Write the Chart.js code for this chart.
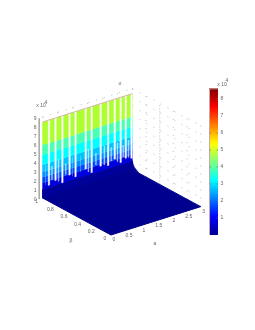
<!DOCTYPE html>
<html><head><meta charset="utf-8">
<style>html,body{margin:0;padding:0;background:#fff}canvas{display:block}</style>
<script src="https://cdn.jsdelivr.net/npm/chart.js@4"></script></head>
<body><canvas id="c" width="255" height="330"></canvas>
<script>
// ---- data ----
const xTicks = [0, 0.5, 1, 1.5, 2, 2.5, 3];
const yTicks = [0, 0.2, 0.4, 0.6, 0.8, 1];
const zTicks = [0, 1, 2, 3, 4, 5, 6, 7, 8, 9];
const colorbarTicks = [1, 2, 3, 4, 5, 6, 7, 8];
const xTickText = ['0', '0.5', '1', '1.5', '2', '2.5', '3'];
const yTickText = ['0', '0.2', '0.4', '0.6', '0.8', '1'];
// wall colour bands: lower z bound, upper z bound, colour
const bandLow  = [0,         0.9,       1.7,       2.3,       2.9,       3.7,       4.8,       5.9];
const bandHigh = [0.9,       1.7,       2.3,       2.9,       3.7,       4.8,       5.9,       8.45];
const bandCol  = ['#00009a', '#0000dc', '#0048ff', '#0090ff', '#00c4ff', '#00ffff', '#48ffb4', '#adff2f'];
// white gaps between the wall's ridges
const gapX   = [0.19, 0.41, 0.64, 0.88, 1.08, 1.42, 1.62, 1.92, 2.17, 2.39, 2.59, 2.76, 2.95];
const gapLow = [1.2,  1.5,  1.0,  1.6,  1.2,  1.7,  1.1,  1.5,  1.3,  1.8,  1.2,  1.5,  1.3];
// short pale flecks in the lower part of the wall
const fleckX    = [0.08, 0.30, 0.52, 0.76, 0.98, 1.25, 1.52, 1.77, 2.05, 2.28, 2.49, 2.68, 2.86];
const fleckHigh = [3.6,  3.2,  3.7,  3.0,  3.5,  3.3,  3.8,  3.1,  3.6,  3.2,  3.5,  3.0,  3.4];
const fleckLow  = [1.4,  1.7,  1.3,  1.8,  1.4,  1.6,  1.3,  1.8,  1.5,  1.7,  1.4,  1.7,  1.5];
// colorbar
const jetStops = ['#00008f','#0000ff','#0080ff','#00ffff','#80ff80','#ffff00','#ff8000','#ff0000','#800000'];
const colorMin = 0, colorMax = 8.6;

// ---- 3D view ----
const view = { ox: 111, oy: 235, xdx: 29.9, xdy: -9.45, ydx: -68.3, ydy: -37, zdy: -9 };
const X = (x, y) => view.ox + x * view.xdx + y * view.ydx;
const Y = (x, y, z) => view.oy + x * view.xdy + y * view.ydy + z * view.zdy;
const P = (x, y, z) => ({ x: X(x, y), y: Y(x, y, z) });
const W = 255, H = 330;

const sets = [];
function shape(pts, color, yAxisID, bw) {
  sets.push({ data: pts.concat([pts[0]]), showLine: true, fill: 'shape', backgroundColor: color,
    borderColor: color, borderWidth: bw === undefined ? 0.3 : bw, pointRadius: 0, tension: 0, yAxisID: yAxisID || 'y' });
}
function line(pts, color, width, dash) {
  sets.push({ data: pts, showLine: true, fill: false, borderColor: color, borderWidth: width,
    borderDash: dash || [], pointRadius: 0, tension: 0, yAxisID: 'y' });
}
const gridCol = '#a9a9a9', dots = [1, 7], denseDots = [1, 2];
// back-wall grid
zTicks.forEach(z => {
  line([P(0, 1, z), P(3, 1, z)], gridCol, 0.8, dots);
  line([P(3, 1, z), P(3, 0, z)], gridCol, 0.8, dots);
});
xTicks.forEach(x => line([P(x, 1, 0), P(x, 1, 9)], gridCol, 0.8, dots));
yTicks.forEach(y => line([P(3, y, 0), P(3, y, 9)], gridCol, 0.8, y === 0.6 ? denseDots : dots));
// wall bands
bandCol.forEach((c, i) => shape([P(0, 1, bandLow[i]), P(3, 1, bandLow[i]), P(3, 1, bandHigh[i]), P(0, 1, bandHigh[i])], c));
// navy base of the wall, overlapping the floor so that no seam shows
shape([P(0, 1, bandHigh[0]), P(3, 1, bandHigh[0]), P(3, 1, bandLow[0]), P(0, 1, bandLow[0])], bandCol[0], 'y', 1);
// floor
shape([P(0, 0, 0), P(3, 0, 0), P(3, 1, 0), P(0, 1, 0)], '#00008f', 'y', 1);
// foot of the wall at its far end
shape([P(3, 1, 0.9), P(3, 0.97, 0.4), P(3, 0.9, 0), P(3, 1, 0)], '#00009a');
// gaps
gapX.forEach((x, i) => shape([P(x, 1, gapLow[i]), P(x + 0.045, 1, gapLow[i]), P(x + 0.045, 1, 8.5), P(x, 1, 8.5)], '#ffffff'));
fleckX.forEach((x, i) => shape([P(x, 1, fleckLow[i]), P(x + 0.03, 1, fleckLow[i]), P(x + 0.03, 1, fleckHigh[i]), P(x, 1, fleckHigh[i])], 'rgba(255,255,255,0.55)'));
// top edge of the wall
line([P(0, 1, 8.45), P(3, 1, 8.45)], '#dcb4b4', 1);
// vertical axis
line([P(-0.12, 1, 0), P(-0.12, 1, 9)], '#777777', 1);
// colorbar: each step runs to the top and the next one paints over it, so no seams appear
function mixColor(a, b, t) {
  const h = s => [1, 3, 5].map(i => parseInt(s.substr(i, 2), 16));
  const A = h(a), B = h(b);
  return 'rgb(' + A.map((v, i) => Math.round(v + (B[i] - v) * t)).join(',') + ')';
}
for (let i = 0; i < jetStops.length - 1; i++) {
  const a = colorMin + (colorMax - colorMin) * i / (jetStops.length - 1);
  const b = colorMin + (colorMax - colorMin) * (i + 1) / (jetStops.length - 1);
  const n = 8;
  for (let k = 0; k < n; k++) {
    const v0 = a + (b - a) * k / n;
    shape([{ x: 209.5, y: v0 }, { x: 218, y: v0 }, { x: 218, y: colorMax }, { x: 209.5, y: colorMax }],
      mixColor(jetStops[i], jetStops[i + 1], (k + 0.5) / n), 'cb', 0);
  }
}
// colorbar outline on its left and top
sets.push({ data: [{ x: 209.5, y: colorMin }, { x: 209.5, y: colorMax }, { x: 218, y: colorMax }], showLine: true, fill: false,
  borderColor: '#c8a8a8', borderWidth: 1, pointRadius: 0, tension: 0, yAxisID: 'cb' });
// Chart.js paints the first dataset on top: paint in the order built above
sets.reverse();

const cbPxPerUnit = 17, cbZeroPx = 235;
const labels = {
  id: 'labels',
  afterDatasetsDraw(ch) {
    const c = ch.ctx, sx = ch.scales.x, sy = ch.scales.y, cb = ch.scales.cb;
    c.save();
    c.fillStyle = '#666';
    c.font = '5px "Liberation Sans"';
    c.textAlign = 'center'; c.textBaseline = 'middle';
    const T = (t, px, py) => c.fillText(t, sx.getPixelForValue(px), sy.getPixelForValue(py));
    zTicks.forEach(z => { const p = P(-0.12, 1, z); T(String(z), p.x - 4, p.y); });
    xTicks.forEach((x, i) => { const p = P(x, 0, 0); T(xTickText[i], p.x + 3, p.y + 5); });
    yTicks.forEach((y, i) => { const p = P(0, y, 0); T(yTickText[i], p.x - 6, p.y + 4); });
    colorbarTicks.forEach(v => {
      const py = cb.getPixelForValue(v);
      c.fillText(String(v), 222, py);
      c.fillRect(209.5, py - 0.3, 1.5, 0.6); c.fillRect(216.5, py - 0.3, 1.5, 0.6);
    });
    T('x 10', 41, 106); T('x 10', 222, 85);
    T('4', 46, 103); T('4', 227, 81);
    T('a', 155, 244); T('β', 71, 241); T('σ', 120, 84);
    c.restore();
  }
};

new Chart(document.getElementById('c'), {
  type: 'scatter',
  data: { datasets: sets },
  options: {
    responsive: false, animation: false, events: [],
    layout: { padding: 0 },
    plugins: { legend: { display: false }, tooltip: { enabled: false }, title: { display: false } },
    scales: {
      x: { type: 'linear', display: false, min: 0, max: W },
      y: { type: 'linear', display: false, min: 0, max: H, reverse: true },
      cb: { type: 'linear', display: false, min: (cbZeroPx - H) / cbPxPerUnit, max: cbZeroPx / cbPxPerUnit }
    }
  },
  plugins: [labels]
});
</script></body></html>
